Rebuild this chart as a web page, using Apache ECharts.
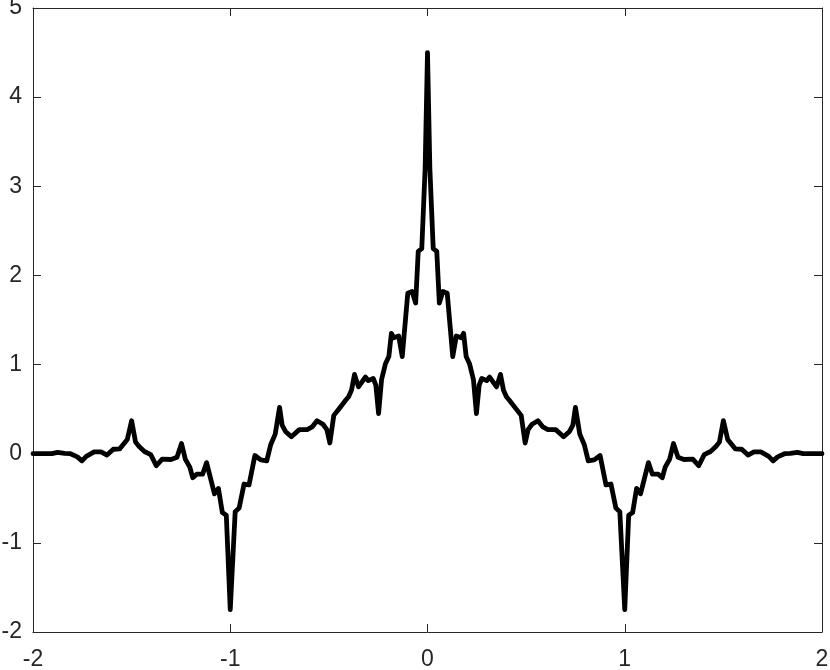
<!DOCTYPE html>
<html>
<head>
<meta charset="utf-8">
<script src="https://cdn.jsdelivr.net/npm/echarts@6/dist/echarts.min.js"></script>
<style>
html, body { margin: 0; padding: 0; background: #fff; }
#chart { width: 830px; height: 670px; }
</style>
</head>
<body>
<div id="chart"></div>
<script>
// x positions of the sampled curve
var xValues = [
    -2.0, -1.95, -1.905, -1.875, -1.84, -1.81, -1.775, -1.752, -1.73, -1.69,
    -1.655, -1.625, -1.593, -1.56, -1.522, -1.50, -1.48, -1.462, -1.435, -1.403,
    -1.375, -1.345, -1.30, -1.27, -1.247, -1.228, -1.205, -1.19, -1.17, -1.14,
    -1.12, -1.08, -1.06, -1.04, -1.02, -1.00, -0.975, -0.955, -0.93, -0.905,
    -0.875, -0.845, -0.815, -0.795, -0.772, -0.75, -0.737, -0.72, -0.69, -0.65,
    -0.61, -0.585, -0.56, -0.53, -0.51, -0.495, -0.475, -0.45, -0.415, -0.40,
    -0.385, -0.37, -0.35, -0.315, -0.30, -0.275, -0.262, -0.248, -0.233, -0.213,
    -0.196, -0.183, -0.171, -0.146, -0.128, -0.10, -0.078, -0.06, -0.047, -0.029,
    -0.012,
    0,
    0.012,
    0.029, 0.047, 0.06, 0.078, 0.10, 0.128, 0.146, 0.171, 0.183, 0.196,
    0.213, 0.233, 0.248, 0.262, 0.275, 0.30, 0.315, 0.35, 0.37, 0.385,
    0.40, 0.415, 0.45, 0.475, 0.495, 0.51, 0.53, 0.56, 0.585, 0.61,
    0.65, 0.69, 0.72, 0.737, 0.75, 0.772, 0.795, 0.815, 0.845, 0.875,
    0.905, 0.93, 0.955, 0.975, 1.00, 1.02, 1.04, 1.06, 1.08, 1.12,
    1.14, 1.17, 1.19, 1.205, 1.228, 1.247, 1.27, 1.30, 1.345, 1.375,
    1.403, 1.435, 1.462, 1.48, 1.50, 1.522, 1.56, 1.593, 1.625, 1.655,
    1.69, 1.73, 1.752, 1.775, 1.81, 1.84, 1.875, 1.905, 1.95, 2.0
];
// curve values
var yValues = [
    0, 0, 0, 0.015, 0.005, 0, -0.035, -0.08, -0.03, 0.02,
    0.02, -0.015, 0.05, 0.055, 0.16, 0.37, 0.13, 0.08, 0.025, -0.01,
    -0.135, -0.06, -0.065, -0.04, 0.115, -0.06, -0.15, -0.27, -0.23, -0.23,
    -0.10, -0.45, -0.39, -0.66, -0.69, -1.75, -0.65, -0.61, -0.34, -0.35,
    -0.02, -0.07, -0.08, 0.10, 0.22, 0.52, 0.32, 0.25, 0.19, 0.27,
    0.27, 0.30, 0.37, 0.33, 0.27, 0.12, 0.43, 0.50, 0.60, 0.64,
    0.715, 0.89, 0.75, 0.86, 0.82, 0.845, 0.77, 0.45, 0.83, 1.01,
    1.09, 1.35, 1.30, 1.32, 1.09, 1.80, 1.82, 1.69, 2.27, 2.30,
    3.2,
    4.5,
    3.2,
    2.30, 2.27, 1.69, 1.82, 1.80, 1.09, 1.32, 1.30, 1.35, 1.09,
    1.01, 0.83, 0.45, 0.77, 0.845, 0.82, 0.86, 0.75, 0.89, 0.715,
    0.64, 0.60, 0.50, 0.43, 0.12, 0.27, 0.33, 0.37, 0.30, 0.27,
    0.27, 0.19, 0.25, 0.32, 0.52, 0.22, 0.10, -0.08, -0.07, -0.02,
    -0.35, -0.34, -0.61, -0.65, -1.75, -0.69, -0.66, -0.39, -0.45, -0.10,
    -0.23, -0.23, -0.27, -0.15, -0.06, 0.115, -0.04, -0.065, -0.06, -0.135,
    -0.01, 0.025, 0.08, 0.13, 0.37, 0.16, 0.055, 0.05, -0.015, 0.02,
    0.02, -0.03, -0.08, -0.035, 0, 0.005, 0.015, 0, 0, 0
];

var xRange = [-2, 2];
var yRange = [-2, 5];

var axisColor = '#262626';
var fontName = 'Liberation Sans';

var points = [];
for (var i = 0; i < xValues.length; i++) {
    points.push([xValues[i], yValues[i]]);
}

function makeAxis(range, pos, showLabel) {
    return {
        type: 'value',
        position: pos,
        min: range[0],
        max: range[1],
        interval: 1,
        axisLine: { show: true, onZero: false, lineStyle: { color: axisColor, width: 1 } },
        axisTick: { show: true, inside: true, length: 8, lineStyle: { color: axisColor, width: 1 } },
        splitLine: { show: false },
        axisLabel: {
            show: showLabel,
            color: axisColor,
            fontSize: 23,
            fontFamily: fontName,
            margin: pos === 'bottom' ? 16 : 11,
            showMinLabel: true,
            showMaxLabel: true
        }
    };
}

var myChart = echarts.init(document.getElementById('chart'), null, { renderer: 'canvas' });
var option = {
    backgroundColor: '#ffffff',
    animation: false,
    grid: {
        left: 33,
        right: 8,
        top: 8,
        bottom: 38,
        containLabel: false,
        outerBoundsMode: 'none'
    },
    xAxis: [makeAxis(xRange, 'bottom', true), makeAxis(xRange, 'top', false)],
    yAxis: [makeAxis(yRange, 'left', true), makeAxis(yRange, 'right', false)],
    series: [{
        type: 'line',
        xAxisIndex: 0,
        yAxisIndex: 0,
        data: points,
        showSymbol: false,
        lineStyle: { color: '#000000', width: 4.8, cap: 'round', join: 'round' }
    }]
};
myChart.setOption(option);
</script>
</body>
</html>
